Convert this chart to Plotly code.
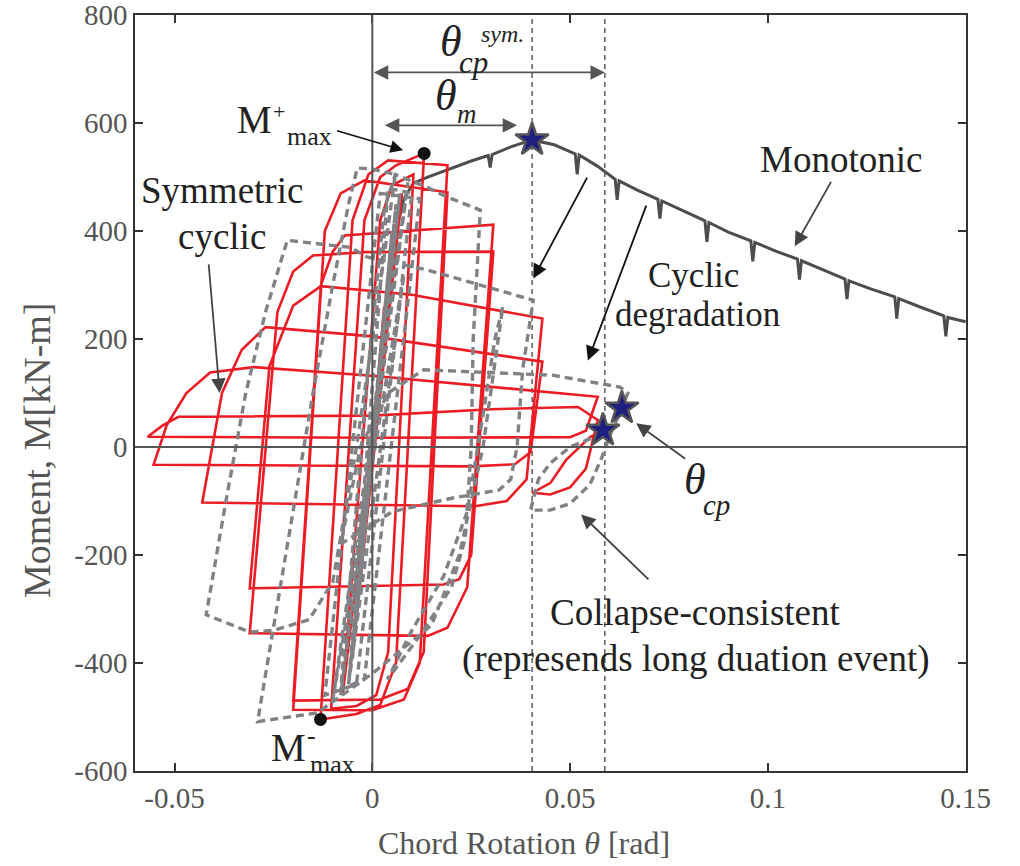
import plotly.graph_objects as go

# ---------------- data ----------------
mono_theta = [0.0, 0.002, 0.004, 0.006, 0.008, 0.0104, 0.014, 0.0197, 0.025,
              0.0293, 0.0298, 0.0303, 0.035, 0.0404, 0.046,
              0.0513, 0.0518, 0.0523, 0.057,
              0.0614, 0.0619, 0.0624, 0.067,
              0.0722, 0.0727, 0.0732, 0.079,
              0.0841, 0.0846, 0.0851, 0.090,
              0.0957, 0.0962, 0.0967, 0.102,
              0.1075, 0.108, 0.1085, 0.114,
              0.1195, 0.120, 0.1205, 0.126,
              0.1321, 0.1326, 0.1331, 0.139,
              0.1445, 0.145, 0.1455, 0.150]
mono_moment = [0, 160, 300, 400, 460, 489, 500, 516, 530,
               540, 518, 542, 556, 569, 560,
               543, 505, 541, 520,
               496, 458, 493, 476,
               459, 423, 456, 437,
               419, 380, 416, 398,
               382, 344, 379, 363,
               348, 310, 345, 328,
               311, 274, 308, 293,
               278, 238, 275, 258,
               243, 205, 240, 232]

red_theta = [0.0, 0.003, -0.003, 0.005, -0.005, 0.0075, -0.0075,
             0.002, 0.005, 0.0104, 0.004, 0.001, -0.004, -0.0104,
             -0.002, 0.002, 0.006, 0.0131, 0.006, 0.002, -0.004, -0.0131,
             -0.005, -0.001, 0.004, 0.019, 0.012, 0.008, 0.0, -0.020,
             -0.012, -0.008, -0.002, 0.019, 0.013, 0.009, 0.002, -0.020,
             -0.013, -0.010, -0.007, 0.0306, 0.024, 0.019, 0.014, -0.031,
             -0.024, -0.020, -0.015, -0.002, 0.0306, 0.025, 0.022, 0.018, -0.031,
             -0.026, -0.020, -0.013, 0.010, 0.043, 0.039, 0.034, 0.026, -0.043,
             -0.038, -0.033, -0.027, 0.0, 0.043, 0.040, 0.036, 0.025, -0.0553,
             -0.052, -0.047, -0.041, -0.030, 0.0, 0.057, 0.054, 0.050, 0.0, -0.0568,
             -0.053, -0.049, 0.0, 0.030, 0.052, 0.057,
             0.054, 0.050, 0.045, 0.0404, 0.045, 0.049, 0.055, 0.0583]
red_moment = [0, 260, -250, 390, -380, 470, -460,
              420, 485, 505, -380, -460, -480, -485,
              420, 500, 522, 544, -400, -478, -495, -505,
              420, 505, 531, 522, -400, -468, -488, -487,
              400, 470, 494, 472, -380, -448, -468, -470,
              300, 362, 392, 412, -260, -335, -350, -345,
              250, 325, 355, 361, 362, -200, -245, -255, -262,
              150, 262, 298, 282, 238, -60, -100, -110, -103,
              100, 180, 222, 205, 158, -10, -32, -36, -33,
              40, 100, 138, 148, 132, 93, 30, 18, 17, 19,
              40, 56, 58, 70, 74, 50,
              -40, -75, -88, -85, -67, -24, 18, 31]

gray_theta = [0.0, 0.002, -0.002, 0.003, -0.003, 0.004, -0.004, 0.005, -0.005, 0.006, -0.006,
              0.007, -0.008, 0.009, -0.010, 0.008, -0.006,
              0.004, 0.010, -0.004, -0.012, 0.002, 0.012, -0.002, -0.008,
              -0.001, 0.003, 0.0058, 0.0139, 0.019, 0.0273,
              0.0255, 0.025, 0.0235, 0.020, 0.012, 0.0038,
              0.010, 0.018, 0.024, 0.028, 0.031, 0.033,
              0.028, 0.022, 0.015, 0.0, -0.014, -0.029,
              -0.022, -0.015, -0.010, -0.006, -0.0038, 0.0, 0.0058,
              0.002, -0.004, -0.010, -0.016, -0.025, -0.031, -0.042,
              -0.037, -0.032, -0.027, -0.0215, -0.0107, -0.0055, -0.0013, 0.0139, 0.0407,
              0.038, 0.0366, 0.035, 0.032, 0.020, 0.005, -0.008,
              -0.003, 0.004, 0.013, 0.0455, 0.0626, 0.0646,
              0.0631, 0.060, 0.058, 0.055, 0.050, 0.045, 0.040,
              0.042, 0.045, 0.050, 0.055, 0.0583]
gray_moment = [0, 170, -160, 250, -240, 330, -320, 400, -390, 450, -440,
               470, -460, 490, -470, 320, -440,
               480, 470, -440, -460, 470, 460, -430, -450,
               150, 440, 505, 481, 463, 439,
               198, 0, -170, -260, -350, -431,
               -340, -240, -120, 60, 200, 260,
               0, -200, -330, -420, -493, -509,
               -200, 100, 300, 450, 517, 515, 505,
               300, 0, -250, -320, -340, -343, -311,
               -100, 100, 250, 383, 374, 370, 352, 328, 272,
               143, 0, -60, -80, -95, -120, -180,
               0, 100, 143, 133, 111, 100,
               72, 20, -20, -70, -105, -117, -117,
               -60, -30, 0, 15, 31]

peak_theta = [0.0131, -0.0131]
peak_moment = [544, -505]
star_theta = [0.0404, 0.0583, 0.0631]
star_moment = [569, 31, 72]
ref_theta = [0.0404, 0.0588]

x_tickvals = [-0.05, 0, 0.05, 0.1, 0.15]
x_ticktext = ["-0.05", "0", "0.05", "0.1", "0.15"]
y_tickvals = [-600, -400, -200, 0, 200, 400, 600, 800]
y_ticktext = ["-600", "-400", "-200", "0", "200", "400", "600", "800"]

SERIF = "Liberation Serif"
RED = "#ed1c24"
GRAY = "#808285"
MONO = "#4d4d4f"

fig = go.Figure()

fig.add_trace(go.Scatter(x=mono_theta, y=mono_moment, mode="lines",
                         line=dict(color=MONO, width=3), hoverinfo="skip"))
fig.add_trace(go.Scatter(x=red_theta, y=red_moment, mode="lines",
                         line=dict(color=RED, width=2.6), hoverinfo="skip"))
fig.add_trace(go.Scatter(x=gray_theta, y=gray_moment, mode="lines",
                         line=dict(color=GRAY, width=3.4, dash="8px,5px"),
                         hoverinfo="skip"))
fig.add_trace(go.Scatter(x=peak_theta, y=peak_moment, mode="markers",
                         marker=dict(color="#111111", size=13), hoverinfo="skip"))
fig.add_trace(go.Scatter(x=star_theta, y=star_moment, mode="markers",
                         marker=dict(symbol="star", color="#1f1f80", size=25,
                                     line=dict(color="#555555", width=2.5)),
                         hoverinfo="skip"))

for xv in ref_theta:
    fig.add_vline(x=xv, line=dict(color="#444444", width=1.3, dash="5px,4px"), layer="below")
fig.add_vline(x=0, line=dict(color="#555555", width=2), layer="above")
fig.add_hline(y=0, line=dict(color="#555555", width=2), layer="above")

ann = []

def text(x, y, s, size, color="#222222", italic=False, xanchor="center"):
    if italic:
        s = "<i>" + s + "</i>"
    ann.append(dict(x=x, y=y, xref="x", yref="y", text=s, showarrow=False,
                    font=dict(family=SERIF, size=size, color=color),
                    xanchor=xanchor, yanchor="middle"))

def arrow(x0, y0, x1, y1, color, double=False, width=1.8, size=1.6):
    d = dict(x=x1, y=y1, ax=x0, ay=y0, xref="x", yref="y", axref="x", ayref="y",
             text="", showarrow=True, arrowhead=2, arrowsize=size, arrowwidth=width,
             arrowcolor=color, standoff=0, startstandoff=0)
    if double:
        d.update(arrowside="end+start", startarrowhead=2, startarrowsize=size)
    ann.append(d)

# theta_cp^sym double arrow
arrow(0.0, 694, 0.0588, 694, "#555555", double=True)
text(0.0200, 752, "θ", 44, italic=True)
text(0.0255, 712, "cp", 31, italic=True)
text(0.0330, 765, "sym.", 24, italic=True)
# theta_m double arrow
arrow(0.0028, 596, 0.0366, 596, "#555555", double=True)
text(0.0187, 652, "θ", 44, italic=True)
text(0.0240, 617, "m", 27, italic=True)
# M+max
text(-0.0298, 606, "M", 39)
text(-0.0236, 622, "+", 22)
text(-0.0159, 575, "max", 26)
arrow(-0.0093, 587, 0.0078, 550, "#111111", width=1.6)
# M-max
text(-0.0212, -557, "M", 39)
text(-0.0153, -535, "-", 26)
text(-0.0101, -589, "max", 26)
# Symmetric cyclic
text(-0.0380, 475, "Symmetric", 37)
text(-0.0380, 390, "cyclic", 37)
arrow(-0.0414, 341, -0.0386, 100, "#444444")
# Monotonic
text(0.1185, 532, "Monotonic", 37)
arrow(0.1162, 494, 0.1068, 372, "#444444")
# Cyclic degradation
text(0.0813, 318, "Cyclic", 35)
text(0.0823, 245, "degradation", 35)
arrow(0.0545, 502, 0.0407, 312, "#111111")
arrow(0.0694, 450, 0.0545, 160, "#111111")
# theta_cp
text(0.0816, -61, "θ", 44, italic=True)
text(0.0869, -107, "cp", 29, italic=True)
arrow(0.0795, -24, 0.0667, 44, "#444444")
# Collapse-consistent
text(0.0818, -306, "Collapse-consistent", 37)
text(0.0818, -393, "(represends long duation event)", 37)
arrow(0.0702, -248, 0.0528, -125, "#444444")

# axis titles
ann.append(dict(x=0, y=0.4246, xref="paper", yref="paper", xshift=-98,
                text="Moment, M[kN-m]", textangle=-90, showarrow=False,
                xanchor="center", yanchor="middle",
                font=dict(family=SERIF, size=38, color="#555555")))
ann.append(dict(x=0.468, y=0, xref="paper", yref="paper", yshift=-72,
                text="Chord Rotation <i>θ</i> [rad]", showarrow=False,
                xanchor="center", yanchor="middle",
                font=dict(family=SERIF, size=32, color="#555555")))
fig.update_layout(annotations=ann)

axis_common = dict(showline=True, linecolor="#333333", linewidth=1.5, mirror="ticks",
                   ticks="inside", ticklen=8, tickwidth=1.5, tickcolor="#333333",
                   showgrid=False, zeroline=False, automargin=False,
                   ticklabeloverflow="allow",
                   tickfont=dict(family=SERIF, size=29, color="#555555"))

fig.update_xaxes(range=[-0.06, 0.1501], tickvals=x_tickvals, ticktext=x_ticktext,
                 **axis_common)
fig.update_yaxes(range=[-600.5, 800.5], tickvals=y_tickvals, ticktext=y_ticktext,
                 **axis_common)

fig.update_layout(width=1020, height=866, showlegend=False,
                  margin=dict(l=135, r=54, t=15, b=95),
                  plot_bgcolor="white", paper_bgcolor="white")

fig.write_html("out.html", config={"displayModeBar": False},
               post_script="document.body.style.margin='0px';document.body.style.padding='0px';")
